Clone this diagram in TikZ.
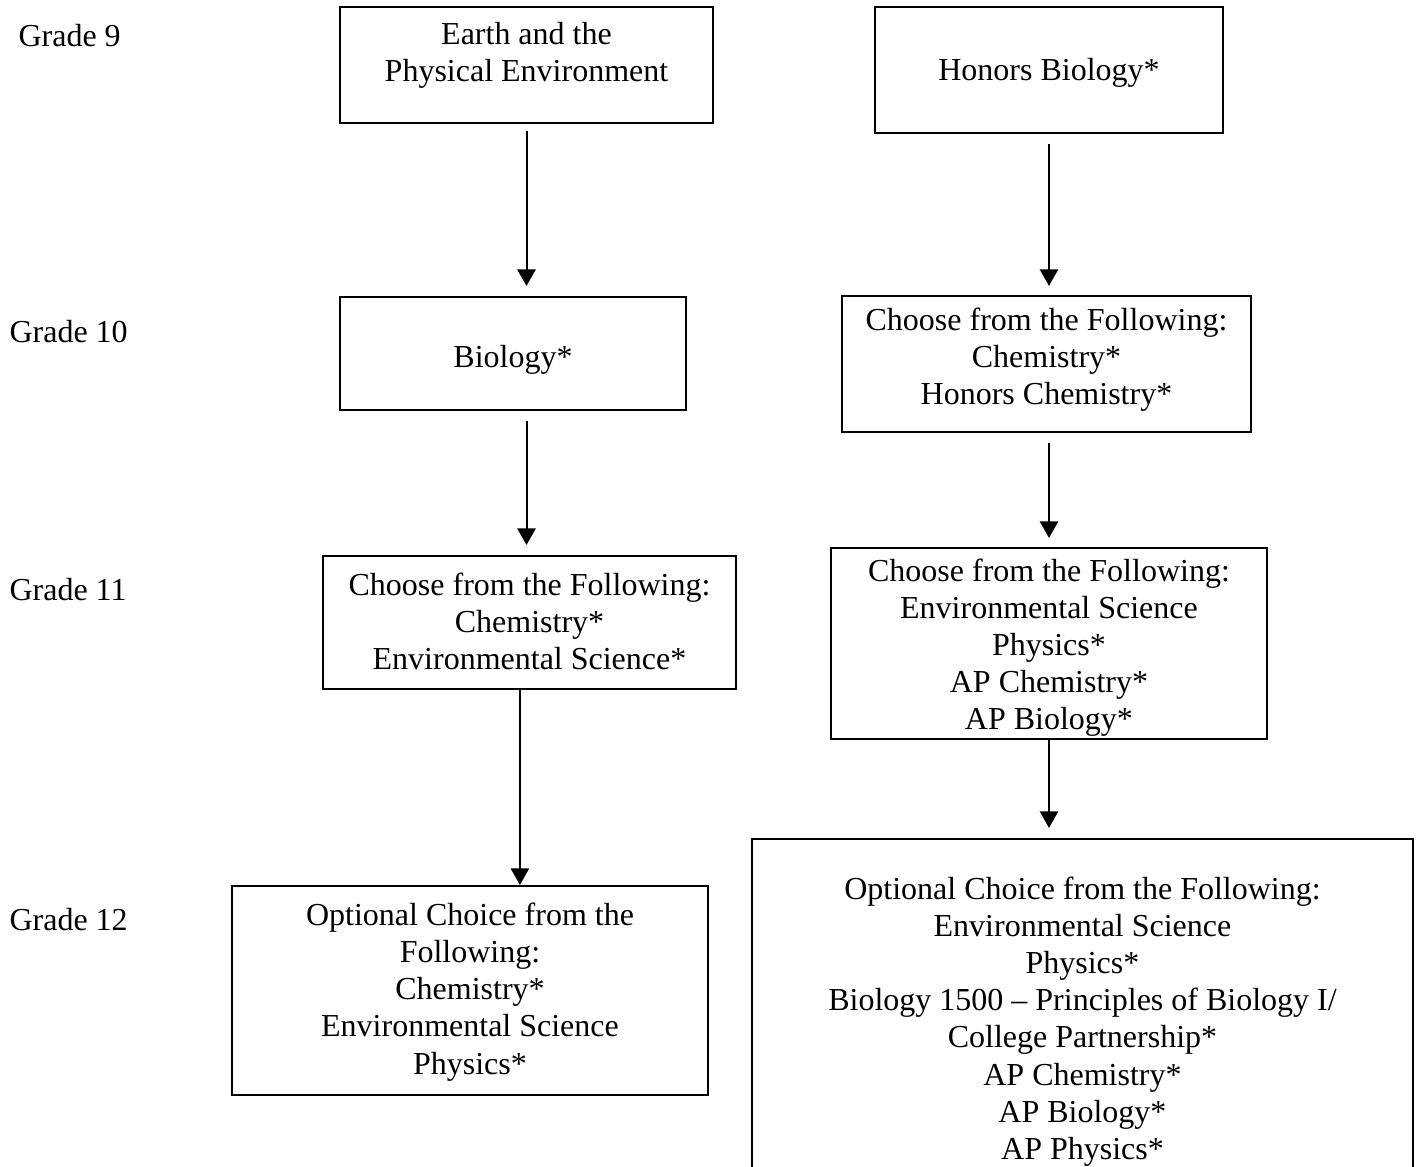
\documentclass[tikz,border=0pt]{standalone}
\usepackage{fontspec}
\setmainfont{Liberation Serif}
\usetikzlibrary{arrows.meta}

% text lines of a box, raised by #1 inside a frame that keeps its size
\newcommand\boxlines[2]{\raisebox{#1}[\height][\depth]{\begin{tabular}{@{}c@{}}#2\end{tabular}}}

\tikzset{
  course/.style={draw, line width=0.75pt, inner sep=0pt},
  grade/.style={anchor=west, inner sep=0pt},
  flow/.style={line width=0.75pt, -{Triangle[width=6.8pt,length=6.2pt]}}
}

\begin{document}
\begin{tikzpicture}[x=0.375pt,y=-0.375pt,font=\fontsize{12}{13.9}\selectfont]
  \useasboundingbox (0,0) rectangle (1419,1167);

  % grade labels
  \node[grade] (g9)  at (18,36)  {Grade 9};
  \node[grade] (g10) at (9,332)  {Grade 10};
  \node[grade] (g11) at (9,590)  {Grade 11};
  \node[grade] (g12) at (9,920)  {Grade 12};

  % left track
  \node[course, minimum width=139.9pt, minimum height=43.5pt] (earth) at (526.5,65)
    {\boxlines{3.7pt}{Earth and the\\Physical Environment}};
  \node[course, minimum width=129.8pt, minimum height=42.4pt] (bio) at (513,353.5)
    {\boxlines{-2.6pt}{Biology*}};
  \node[course, minimum width=154.9pt, minimum height=49.9pt] (chemA) at (529.5,622.5)
    {\boxlines{-1.1pt}{Choose from the Following:\\Chemistry*\\Environmental Science*}};
  \node[course, minimum width=178.5pt, minimum height=78.4pt] (optA) at (470,990.5)
    {\boxlines{-0.75pt}{Optional Choice from the\\Following:\\Chemistry*\\Environmental Science\\Physics*}};

  % right track
  \node[course, minimum width=130.5pt, minimum height=47.3pt] (honbio) at (1049,70)
    {\boxlines{-1pt}{Honors Biology*}};
  \node[course, minimum width=153.4pt, minimum height=51pt] (chemB) at (1046.5,364)
    {\boxlines{1.4pt}{Choose from the Following:\\Chemistry*\\Honors Chemistry*}};
  \node[course, minimum width=163.5pt, minimum height=71.6pt] (upperB) at (1049,643.5)
    {\boxlines{-1.7pt}{Choose from the Following:\\Environmental Science\\Physics*\\AP Chemistry*\\AP Biology*}};
  \node[course, minimum width=247.9pt, minimum height=134.3pt] (optB) at (1082.5,1018)
    {\boxlines{-1.5pt}{Optional Choice from the Following:\\Environmental Science\\Physics*\\
     Biology 1500 -- Principles of Biology I/\\College Partnership*\\
     AP Chemistry*\\AP Biology*\\AP Physics*}};

  % arrows
  \draw[flow, shorten <=2.6pt, shorten >=3.75pt] (earth.south) -- (earth.south |- bio.north);
  \draw[flow, shorten <=3.75pt, shorten >=3.75pt] (earth.south |- bio.south) -- (earth.south |- chemA.north);
  \draw[flow] ([xshift=-3.6pt]chemA.south) -- ([xshift=-3.6pt]chemA.south |- optA.north);
  \draw[flow, shorten <=3.75pt, shorten >=3.4pt] (honbio.south) -- (honbio.south |- chemB.north);
  \draw[flow, shorten <=3.75pt, shorten >=3.4pt] (honbio.south |- chemB.south) -- (honbio.south |- upperB.north);
  \draw[flow, shorten >=3.75pt] (upperB.south) -- (upperB.south |- optB.north);
\end{tikzpicture}
\end{document}
